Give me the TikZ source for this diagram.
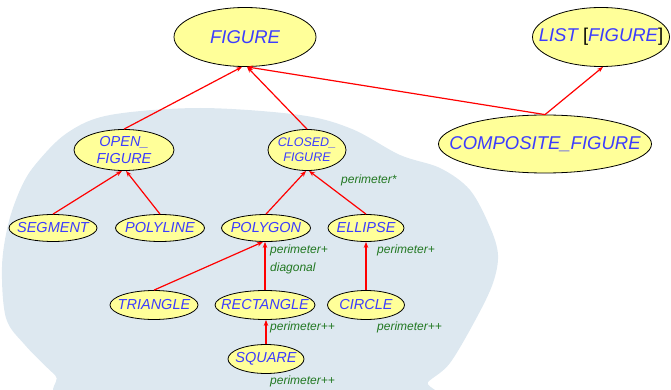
\documentclass[tikz,border=0pt]{standalone}
\usepackage{fontspec}
\setmainfont{Liberation Sans}
\usetikzlibrary{shapes.geometric,arrows.meta}

\definecolor{classblue}{RGB}{60,60,255}
\definecolor{classfill}{RGB}{255,255,153}
\definecolor{featgreen}{RGB}{34,120,34}
\definecolor{clusterbg}{RGB}{221,232,240}

\begin{document}
\begin{tikzpicture}[
    x=1pt, y=-1pt,
    cls/.style={ellipse, draw, line width=0.8pt, fill=classfill, inner sep=0pt},
    clsname/.style={inner sep=0pt, align=center, text=classblue,
        font=\itshape\fontsize{14.5}{17.5}\selectfont},
    bigname/.style={clsname, font=\itshape\fontsize{18.5}{21}\selectfont},
    smallname/.style={clsname, font=\itshape\fontsize{12.5}{15}\selectfont},
    inherit/.style={-{Stealth[length=6pt,width=4.5pt]}, red, line width=1.2pt},
    feat/.style={anchor=west, inner sep=0pt, text=featgreen,
        font=\itshape\fontsize{12}{14}\selectfont}
]
    \useasboundingbox (0,0) rectangle (671,390);
    \clip (0,0) rectangle (671,390);

    % Cluster background
    \fill[clusterbg] plot[smooth cycle, tension=0.55] coordinates {
        (110,115) (200,108) (300,115) (352,129) (400,155) (440,168)
        (470,190) (490,227) (498,255) (493,283) (477,317) (450,363)
        (428,382) (412,400) (85,400) (55,375) (25,345) (6,318)
        (2,267) (8,225) (20,190) (35,165) (67,133)};

    % Nodes
    \node[cls, minimum width=142, minimum height=59,
        label={[bigname]center:FIGURE}] (FIG) at (245,37) {};
    \node[cls, minimum width=137, minimum height=59,
        label={[bigname]center:LIST {\upshape\color{black}[}FIGURE{\upshape\color{black}]}}]
        (LIST) at (601,37) {};
    \node[cls, minimum width=213, minimum height=58,
        label={[bigname]center:COMPOSITE\_FIGURE}] (COMP) at (545,144) {};

    \node[cls, minimum width=100, minimum height=41,
        label={[clsname]center:OPEN\_\\FIGURE}] (OPEN) at (124,150) {};
    \node[cls, minimum width=78, minimum height=41,
        label={[smallname]center:CLOSED\_\\FIGURE}] (CLOSED) at (307,150) {};

    \node[cls, minimum width=88, minimum height=27,
        label={[clsname]center:SEGMENT}] (SEG) at (53,228) {};
    \node[cls, minimum width=89, minimum height=27,
        label={[clsname]center:POLYLINE}] (PLINE) at (160,228) {};
    \node[cls, minimum width=89, minimum height=27,
        label={[clsname]center:POLYGON}] (PGON) at (266,228) {};
    \node[cls, minimum width=76, minimum height=27,
        label={[clsname]center:ELLIPSE}] (ELL) at (366,228) {};

    \node[cls, minimum width=88, minimum height=29,
        label={[clsname]center:TRIANGLE}] (TRI) at (154,305) {};
    \node[cls, minimum width=100, minimum height=29,
        label={[clsname]center:RECTANGLE}] (RECT) at (265,305) {};
    \node[cls, minimum width=77, minimum height=29,
        label={[clsname]center:CIRCLE}] (CIRC) at (366,305) {};
    \node[cls, minimum width=76, minimum height=29,
        label={[clsname]center:SQUARE}] (SQ) at (266,359) {};

    % Inheritance
    \draw[inherit] (OPEN.north) -- ([xshift=-3pt]FIG.south);
    \draw[inherit] (CLOSED.north) -- ([xshift=2pt]FIG.south);
    \draw[inherit] (COMP.north) -- ([xshift=2pt]FIG.south);
    \draw[inherit] (COMP.north) -- ([xshift=2pt]LIST.south);
    \draw[inherit] (SEG.north) -- ([xshift=-2pt]OPEN.south);
    \draw[inherit] (PLINE.north) -- ([xshift=2pt]OPEN.south);
    \draw[inherit] (PGON.north) -- ([xshift=-1pt]CLOSED.south);
    \draw[inherit] (ELL.north) -- ([xshift=2pt]CLOSED.south);
    \draw[inherit] (TRI.north) -- ([xshift=-3pt]PGON.south);
    \draw[inherit] (RECT.north) -- (RECT.north |- PGON.south);
    \draw[inherit] (CIRC.north) -- (ELL.south);
    \draw[inherit] (SQ.north) -- (SQ.north |- RECT.south);

    % Features
    \node[feat] (fclosed) at (341,180) {perimeter*};
    \node[feat] (fpgon) at (270,250) {perimeter+};
    \node[feat] (fdiag) at (270,268) {diagonal};
    \node[feat] (fell) at (377,250) {perimeter+};
    \node[feat] (frect) at (270,327) {perimeter++};
    \node[feat] (fcirc) at (377,327) {perimeter++};
    \node[feat] (fsq) at (270,381) {perimeter++};
\end{tikzpicture}
\end{document}
